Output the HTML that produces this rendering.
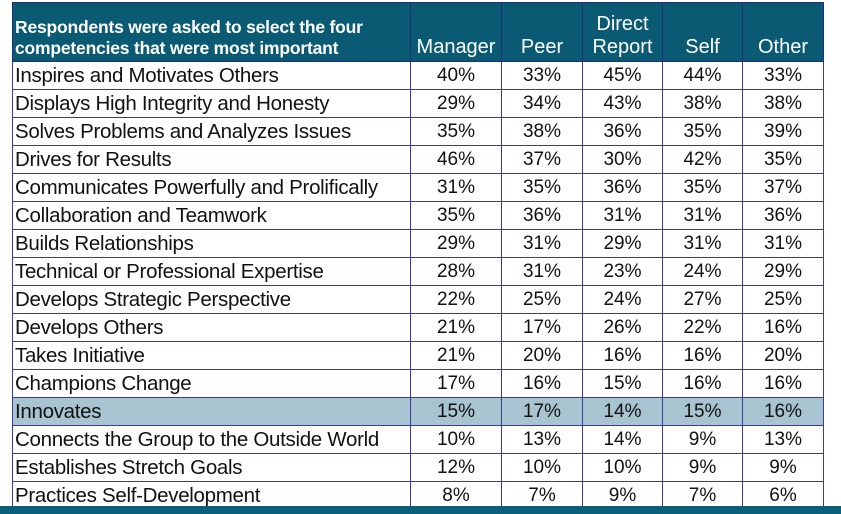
<!DOCTYPE html>
<html><head><style>
body{margin:0;width:841px;height:514px;background:#fff;position:relative;overflow:hidden;font-family:"Liberation Sans",sans-serif}
table{position:absolute;left:12px;top:2px;border-collapse:collapse;table-layout:fixed}
td,th{border:1px solid #3a3a9a;padding:0;height:27px;font-size:19px;color:#111;text-align:center;white-space:nowrap;overflow:hidden;line-height:27px}
td:first-child{text-align:left;padding-left:2px;font-size:20.5px;letter-spacing:-0.3px}
th{background:#0b5a73;color:#fff;font-weight:normal;height:56px;vertical-align:bottom;padding-bottom:2px;font-size:20px;line-height:23px;border-color:#1d2f7a}
th.l{text-align:left;font-size:17.5px;line-height:21px;padding-left:2px;font-weight:bold;letter-spacing:-0.2px}
tr.h td{background:#a8c4d0}
.band{position:absolute;left:0;top:506px;width:841px;height:8px;background:#0b5f78}
</style></head><body>
<table>
<colgroup><col style="width:398px"><col style="width:91px"><col style="width:81px"><col style="width:80px"><col style="width:80px"><col style="width:81px"></colgroup>
<tr><th class="l">Respondents were asked to select the four<br>competencies that were most important</th><th>Manager</th><th>Peer</th><th>Direct<br>Report</th><th>Self</th><th>Other</th></tr>
<tr><td>Inspires and Motivates Others</td><td>40%</td><td>33%</td><td>45%</td><td>44%</td><td>33%</td></tr>
<tr><td>Displays High Integrity and Honesty</td><td>29%</td><td>34%</td><td>43%</td><td>38%</td><td>38%</td></tr>
<tr><td>Solves Problems and Analyzes Issues</td><td>35%</td><td>38%</td><td>36%</td><td>35%</td><td>39%</td></tr>
<tr><td>Drives for Results</td><td>46%</td><td>37%</td><td>30%</td><td>42%</td><td>35%</td></tr>
<tr><td>Communicates Powerfully and Prolifically</td><td>31%</td><td>35%</td><td>36%</td><td>35%</td><td>37%</td></tr>
<tr><td>Collaboration and Teamwork</td><td>35%</td><td>36%</td><td>31%</td><td>31%</td><td>36%</td></tr>
<tr><td>Builds Relationships</td><td>29%</td><td>31%</td><td>29%</td><td>31%</td><td>31%</td></tr>
<tr><td>Technical or Professional Expertise</td><td>28%</td><td>31%</td><td>23%</td><td>24%</td><td>29%</td></tr>
<tr><td>Develops Strategic Perspective</td><td>22%</td><td>25%</td><td>24%</td><td>27%</td><td>25%</td></tr>
<tr><td>Develops Others</td><td>21%</td><td>17%</td><td>26%</td><td>22%</td><td>16%</td></tr>
<tr><td>Takes Initiative</td><td>21%</td><td>20%</td><td>16%</td><td>16%</td><td>20%</td></tr>
<tr><td>Champions Change</td><td>17%</td><td>16%</td><td>15%</td><td>16%</td><td>16%</td></tr>
<tr class="h"><td>Innovates</td><td>15%</td><td>17%</td><td>14%</td><td>15%</td><td>16%</td></tr>
<tr><td>Connects the Group to the Outside World</td><td>10%</td><td>13%</td><td>14%</td><td>9%</td><td>13%</td></tr>
<tr><td>Establishes Stretch Goals</td><td>12%</td><td>10%</td><td>10%</td><td>9%</td><td>9%</td></tr>
<tr><td>Practices Self-Development</td><td>8%</td><td>7%</td><td>9%</td><td>7%</td><td>6%</td></tr>
</table>
<div class="band"></div>
</body></html>
